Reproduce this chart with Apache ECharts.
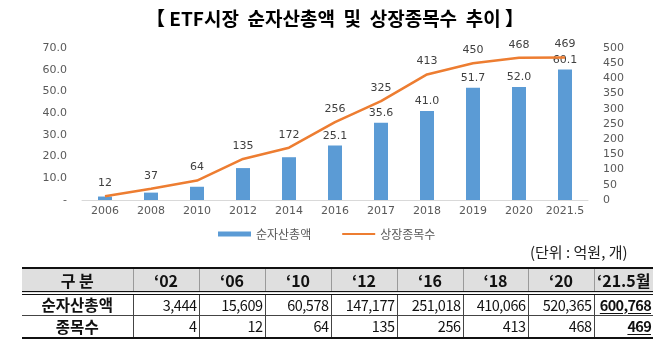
<!DOCTYPE html>
<html>
<head>
<meta charset="utf-8">
<script src="https://cdn.jsdelivr.net/npm/echarts@6/dist/echarts.min.js"></script>
<style>
  html, body { margin: 0; padding: 0; background: #fff; }
  #wrap { position: relative; width: 670px; height: 344px; overflow: hidden; }
  #chart { position: absolute; left: 0; top: 0; width: 670px; height: 344px; }
  #unit { position: absolute; left: 530px; top: 241px; font: 15px 'Noto Sans CJK KR', sans-serif; color: #222; white-space: nowrap; }
  #tbl { position: absolute; left: 22px; top: 267px; border-collapse: collapse; font-family: 'Noto Sans CJK KR', sans-serif; color: #111; }
  #tbl th, #tbl td { padding: 0; line-height: 1; white-space: nowrap; overflow: visible; }
  #tbl thead tr { background: #dfdfdf; height: 25px; border-top: 2px solid #111; border-bottom: 4px double #111; }
  #tbl th { font-size: 16px; font-weight: bold; text-align: center; border-left: 1px solid #9a9a9a; }
  #tbl th:first-child, #tbl td:first-child { border-left: none; }
  #tbl td { font-size: 14.5px; text-align: right; padding-right: 2px; border-left: 1px solid #444; letter-spacing: -0.5px; }
  #tbl td:first-child { text-align: center; font-size: 15.5px; font-weight: bold; padding-right: 0; letter-spacing: 0; }
  #tbl tbody tr.r1 { height: 22px; border-bottom: 1px solid #444; }
  #tbl tbody tr.r2 { height: 23px; border-bottom: 2px solid #111; }
  #tbl td.last { font-weight: bold; text-decoration: underline; text-underline-offset: 2px; letter-spacing: -0.7px; }
</style>
</head>
<body>
<div id="wrap">
  <div id="chart"></div>
  <div id="unit">(단위 : 억원, 개)</div>
  <table id="tbl"></table>
</div>
<script>
// 연도별 ETF 순자산총액(조원)과 상장종목수(개)
const years = ['2006', '2008', '2010', '2012', '2014', '2016', '2017', '2018', '2019', '2020', '2021.5'];
const netAssets = [1.6, 3.4, 6.1, 14.7, 19.7, 25.1, 35.6, 41.0, 51.7, 52.0, 60.1];
const listedCount = [12, 37, 64, 135, 172, 256, 325, 413, 450, 468, 469];
// 막대 값 표시 여부 (2016년부터 표시)
const showAssetLabel = [false, false, false, false, false, true, true, true, true, true, true];

// 하단 표
const tableHead = ['구 분', '‘02', '‘06', '‘10', '‘12', '‘16', '‘18', '‘20', '‘21.5월'];
const tableAssetRow = ['순자산총액', '3,444', '15,609', '60,578', '147,177', '251,018', '410,066', '520,365', '600,768'];
const tableCountRow = ['종목수', '4', '12', '64', '135', '256', '413', '468', '469'];
const colWidths = [111, 66, 66, 66, 66, 66, 65, 66, 59];

const tbl = document.getElementById('tbl');
let html = '<colgroup>' + colWidths.map(w => '<col style="width:' + w + 'px">').join('') + '</colgroup>';
html += '<thead><tr>' + tableHead.map(h => '<th>' + h + '</th>').join('') + '</tr></thead><tbody>';
[[tableAssetRow, 'r1'], [tableCountRow, 'r2']].forEach(([row, cls]) => {
  html += '<tr class="' + cls + '">' + row.map((c, i) =>
    '<td' + (i === row.length - 1 ? ' class="last"' : '') + '>' + c + '</td>').join('') + '</tr>';
});
html += '</tbody>';
tbl.innerHTML = html;
tbl.style.width = colWidths.reduce((a, b) => a + b, 0) + 'px';
tbl.style.tableLayout = 'fixed';

const chart = echarts.init(document.getElementById('chart'), null, { renderer: 'canvas' });
const axisFont = { color: '#595959', fontSize: 11, fontFamily: 'DejaVu Sans' };
const valueFont = { color: '#404040', fontSize: 11, fontFamily: 'DejaVu Sans', opacity: 1 };

chart.setOption({
  animation: false,
  title: {
    text: '【 ETF시장  순자산총액  및  상장종목수  추이 】',
    left: 'center',
    top: 4,
    textStyle: { fontSize: 19, fontWeight: 'bold', color: '#000', fontFamily: 'Noto Sans CJK KR' }
  },
  legend: {
    left: 213,
    top: 223,
    itemGap: 30,
    itemWidth: 33,
    itemHeight: 5,
    textStyle: { color: '#595959', fontSize: 12, fontFamily: 'Noto Sans CJK KR' },
    data: [
      { name: '순자산총액', icon: 'rect' },
      { name: '상장종목수', itemStyle: { opacity: 0 } }
    ]
  },
  grid: { left: 82, right: 82, top: 48, bottom: 144, containLabel: false },
  xAxis: {
    type: 'category',
    data: years,
    axisLine: { lineStyle: { color: '#d9d9d9' } },
    axisTick: { show: false },
    axisLabel: Object.assign({ margin: 6, interval: 0 }, axisFont)
  },
  yAxis: [
    {
      type: 'value', min: 0, max: 70, interval: 10,
      splitLine: { show: false },
      axisLine: { show: false }, axisTick: { show: false },
      axisLabel: Object.assign({
        margin: 15,
        formatter: v => v === 0 ? '-' : v.toFixed(1)
      }, axisFont)
    },
    {
      type: 'value', min: 0, max: 500, interval: 50,
      splitLine: { show: false },
      axisLine: { show: false }, axisTick: { show: false },
      axisLabel: Object.assign({ margin: 15, align: 'left' }, axisFont)
    }
  ],
  series: [
    {
      name: '순자산총액',
      type: 'bar',
      yAxisIndex: 0,
      barWidth: 14,
      itemStyle: { color: '#5b9bd5' },
      data: netAssets.map((v, i) => ({
        value: v,
        label: { show: showAssetLabel[i] }
      })),
      label: Object.assign({
        position: 'top',
        distance: 4,
        formatter: p => p.value.toFixed(1)
      }, valueFont),
      z: 2
    },
    {
      name: '상장종목수',
      type: 'line',
      yAxisIndex: 1,
      data: listedCount,
      symbol: 'none',
      lineStyle: { color: '#ed7d31', width: 2.5 },
      itemStyle: { color: '#ed7d31' },
      z: 3
    },
    {
      // 상장종목수 값 표시
      name: '상장종목수 값',
      type: 'scatter',
      yAxisIndex: 1,
      data: listedCount,
      symbolSize: 1,
      itemStyle: { color: 'rgba(0,0,0,0)' },
      silent: true,
      label: Object.assign({ show: true, position: 'top', distance: 7 }, valueFont),
      z: 4
    }
  ]
});
</script>
</body>
</html>
